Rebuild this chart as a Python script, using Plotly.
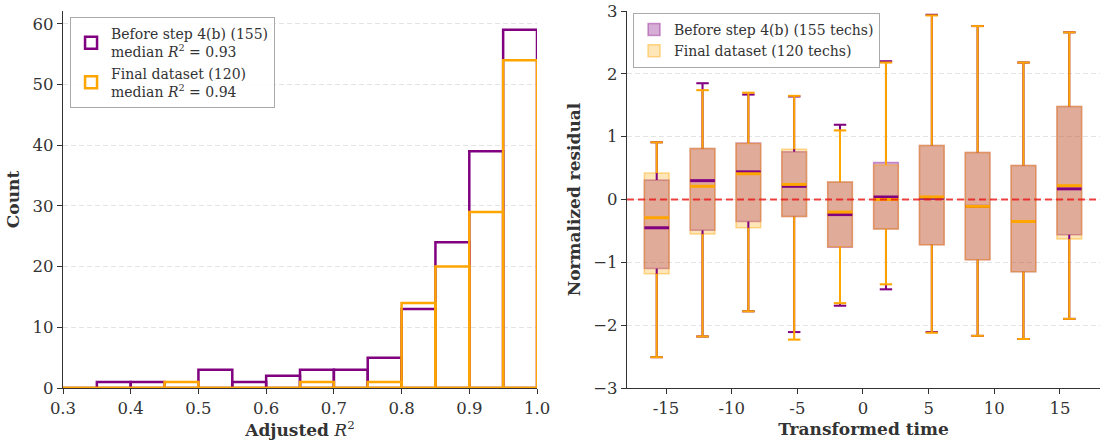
import numpy as np
import plotly.graph_objects as go

# ---- Left panel: adjusted R^2 histogram ----
r2_bin_edges = [0.30, 0.35, 0.40, 0.45, 0.50, 0.55, 0.60, 0.65, 0.70, 0.75, 0.80, 0.85, 0.90, 0.95, 1.00]
r2_counts_before = [0, 1, 1, 0, 3, 1, 2, 3, 3, 5, 13, 24, 39, 59]
r2_counts_final = [0, 0, 0, 1, 0, 0, 0, 1, 0, 1, 14, 20, 29, 54]
label_before_hist = "Before step 4(b) (155)<br>median <i>R</i><sup>2</sup> = 0.93"
label_final_hist = "Final dataset (120)<br>median <i>R</i><sup>2</sup> = 0.94"

# ---- Right panel: residual box statistics per transformed-time bin ----
time_positions = [-15.71, -12.22, -8.73, -5.24, -1.75, 1.75, 5.24, 8.73, 12.22, 15.71]
x_tick_vals = [-15, -10, -5, 0, 5, 10, 15]
x_tick_text = ["-15", "-10", "-5", "0", "5", "10", "15"]

before_lower = [-2.51, -2.18, -1.78, -2.11, -1.69, -1.43, -2.11, -2.17, -2.22, -1.90]
before_q1 = [-1.10, -0.49, -0.35, -0.27, -0.76, -0.47, -0.72, -0.96, -1.15, -0.56]
before_median = [-0.45, 0.30, 0.44, 0.21, -0.24, 0.04, 0.02, -0.11, -0.35, 0.17]
before_q3 = [0.31, 0.81, 0.90, 0.76, 0.28, 0.59, 0.86, 0.75, 0.54, 1.48]
before_upper = [0.91, 1.85, 1.67, 1.64, 1.19, 2.20, 2.94, 2.76, 2.18, 2.66]

final_lower = [-2.51, -2.18, -1.78, -2.23, -1.65, -1.35, -2.12, -2.17, -2.22, -1.90]
final_q1 = [-1.18, -0.55, -0.45, -0.27, -0.75, -0.47, -0.72, -0.96, -1.15, -0.63]
final_median = [-0.29, 0.21, 0.41, 0.24, -0.20, 0.00, 0.04, -0.11, -0.35, 0.22]
final_q3 = [0.42, 0.81, 0.89, 0.80, 0.28, 0.55, 0.86, 0.75, 0.54, 1.48]
final_upper = [0.91, 1.74, 1.70, 1.65, 1.10, 2.18, 2.93, 2.76, 2.18, 2.66]

label_before_box = "Before step 4(b) (155 techs)"
label_final_box = "Final dataset (120 techs)"

PURPLE = "#800080"
ORANGE = "#FFA500"
FONT = "DejaVu Serif"
INK = "#333333"
BOX_W = 1.88
CAP_HALF = BOX_W / 4
TICK_SIZE = 16.5
TITLE_SIZE = 17
LEGEND_SIZE = 14

edges = np.array(r2_bin_edges)
centers = (edges[:-1] + edges[1:]) / 2
widths = np.diff(edges)

fig = go.Figure()

for counts, color, name in [(r2_counts_before, PURPLE, label_before_hist),
                            (r2_counts_final, ORANGE, label_final_hist)]:
    fig.add_trace(go.Bar(
        x=centers, y=counts, width=widths, name=name,
        marker=dict(color="rgba(0,0,0,0)", line=dict(color=color, width=2.5)),
        xaxis="x", yaxis="y", legend="legend", hoverinfo="skip",
    ))

# outline of the empty bins along the histogram baseline
fig.add_shape(type="line", xref="x domain", yref="y", x0=0, x1=1, y0=0, y1=0,
              line=dict(color=ORANGE, width=2.5), layer="above")


def whisker_segments(pos, lo, q1, q3, hi):
    xs, ys = [], []
    for p, l, a, b, h in zip(pos, lo, q1, q3, hi):
        xs += [p, p, None, p, p, None, p - CAP_HALF, p + CAP_HALF, None, p - CAP_HALF, p + CAP_HALF, None]
        ys += [b, h, None, a, l, None, h, h, None, l, l, None]
    return xs, ys


def median_segments(pos, med):
    xs, ys = [], []
    for p, m in zip(pos, med):
        xs += [p - BOX_W / 2, p + BOX_W / 2, None]
        ys += [m, m, None]
    return xs, ys


groups = [
    (before_lower, before_q1, before_median, before_q3, before_upper, PURPLE,
     "rgba(128,0,128,0.32)", "rgba(128,0,128,0.38)", label_before_box),
    (final_lower, final_q1, final_median, final_q3, final_upper, ORANGE,
     "rgba(255,165,0,0.28)", "rgba(255,165,0,0.42)", label_final_box),
]

for lo, q1, med, q3, hi, color, fill, edge, name in groups:
    fig.add_trace(go.Box(
        x=time_positions, q1=q1, median=med, q3=q3, lowerfence=lo, upperfence=hi,
        width=BOX_W, fillcolor=fill, line=dict(color=edge, width=1.5),
        whiskerwidth=0.5, boxpoints=False, name=name,
        xaxis="x2", yaxis="y2", legend="legend2", hoverinfo="skip",
    ))

for lo, q1, med, q3, hi, color, fill, edge, name in groups:
    wx, wy = whisker_segments(time_positions, lo, q1, q3, hi)
    fig.add_trace(go.Scatter(x=wx, y=wy, mode="lines", line=dict(color=color, width=2),
                             showlegend=False, xaxis="x2", yaxis="y2", hoverinfo="skip"))
    mx, my = median_segments(time_positions, med)
    fig.add_trace(go.Scatter(x=mx, y=my, mode="lines", line=dict(color=color, width=3),
                             showlegend=False, xaxis="x2", yaxis="y2", hoverinfo="skip"))

# zero reference line across the residual panel
fig.add_shape(type="line", xref="x2 domain", yref="y2", x0=0, x1=1, y0=0, y1=0,
              line=dict(color="rgba(235,20,20,0.8)", width=2, dash="7px,4px"), layer="above")

axis_common = dict(
    showline=True, linecolor=INK, linewidth=1.2, ticks="outside", ticklen=5,
    tickcolor=INK, tickwidth=1.2, tickfont=dict(family=FONT, size=TICK_SIZE, color=INK),
    zeroline=False, mirror=False, automargin=False,
)
title_font = dict(family=FONT, size=TITLE_SIZE, color=INK)

fig.update_layout(
    width=1103, height=441,
    margin=dict(l=63, r=3, t=11, b=53, autoexpand=False),
    paper_bgcolor="white", plot_bgcolor="white",
    font=dict(family=FONT, color=INK),
    barmode="overlay", boxmode="overlay", showlegend=True,
    xaxis=dict(domain=[0, 0.4571], range=[0.3, 1.0], tickvals=[0.3, 0.4, 0.5, 0.6, 0.7, 0.8, 0.9, 1.0],
               tickformat=".1f", showgrid=False, anchor="y",
               title=dict(text="<b>Adjusted</b> <i>R</i><sup>2</sup>", font=title_font, standoff=6),
               **axis_common),
    yaxis=dict(range=[0, 62.1], tickvals=[0, 10, 20, 30, 40, 50, 60], anchor="x",
               showgrid=True, gridcolor="#e3e3e3", gridwidth=1, griddash="5px,3px",
               title=dict(text="<b>Count</b>", font=title_font, standoff=8),
               **axis_common),
    xaxis2=dict(domain=[0.5439, 1], range=[-17.97, 18.05], tickvals=x_tick_vals, ticktext=x_tick_text,
                showgrid=False, anchor="y2",
                title=dict(text="<b>Transformed time</b>", font=title_font, standoff=6),
                **axis_common),
    yaxis2=dict(range=[-3, 3], tickvals=[-3, -2, -1, 0, 1, 2, 3], anchor="x2",
                showgrid=True, gridcolor="#e3e3e3", gridwidth=1, griddash="5px,3px",
                title=dict(text="<b>Normalized residual</b>", font=title_font, standoff=8),
                **axis_common),
    legend=dict(x=0.0068, y=0.984, xanchor="left", yanchor="top",
                bgcolor="rgba(255,255,255,0.85)", bordercolor="#aaaaaa", borderwidth=1,
                font=dict(family=FONT, size=LEGEND_SIZE, color=INK), valign="middle", tracegroupgap=4),
    legend2=dict(x=0.5497, y=0.995, xanchor="left", yanchor="top",
                 bgcolor="rgba(255,255,255,0.85)", bordercolor="#aaaaaa", borderwidth=1,
                 font=dict(family=FONT, size=LEGEND_SIZE, color=INK), tracegroupgap=0),
)

fig.write_html("out.html")
